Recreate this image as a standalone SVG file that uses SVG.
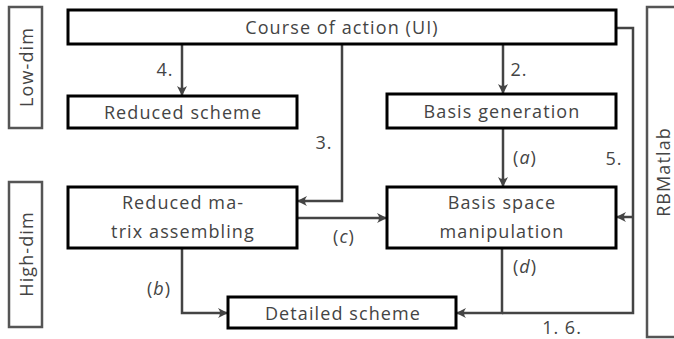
<svg xmlns="http://www.w3.org/2000/svg" width="674" height="339" viewBox="0 0 674 339">
  <defs>
    <marker id="arrow" viewBox="-10 -6 12 12" refX="0" refY="0" markerWidth="12" markerHeight="12" markerUnits="userSpaceOnUse" orient="auto">
      <path d="M1,0 L-9,-5 Q-5,0 -9,5 Z" fill="#444"/>
    </marker>
  </defs>
  <style>
    .box { fill: #fff; stroke: #000; stroke-width: 3; }
    .band { fill: #fff; stroke: #555; stroke-width: 2.5; }
    .wire { fill: none; stroke: #444; stroke-width: 2.5; }
    .arr { marker-end: url(#arrow); }
    text { font-family: "Open Sans", "Noto Sans", "DejaVu Sans", sans-serif; fill: #444; font-size: 18px; letter-spacing: 1.1px; }
    .c { text-anchor: middle; dominant-baseline: central; }
    .lbl { font-size: 18px; letter-spacing: 1px; }
    .it { font-style: italic; }
  </style>

  <!-- level bands -->
  <g id="low-dim">
    <rect class="band" x="9" y="7" width="33" height="121"/>
    <text class="c" transform="translate(26,67) rotate(-90)">Low-dim</text>
  </g>
  <g id="high-dim">
    <rect class="band" x="9" y="182" width="33" height="145"/>
    <text class="c" transform="translate(26,254) rotate(-90)">High-dim</text>
  </g>
  <g id="rbmatlab">
    <rect class="band" x="647" y="7" width="40" height="330"/>
    <text class="c" transform="translate(663,172) rotate(-90)">RBMatlab</text>
  </g>

  <!-- connectors -->
  <g id="connectors">
    <path class="wire arr" d="M182,44 V95"/>
    <path class="wire arr" d="M503,44 V93"/>
    <path class="wire arr" d="M342,44 V201 H298"/>
    <path class="wire" d="M616,28 H633 V313 H502"/>
    <path class="wire arr" d="M633,217 H617"/>
    <path class="wire arr" d="M503,128 V186"/>
    <path class="wire arr" d="M297,218 H386"/>
    <path class="wire arr" d="M182,248 V313 H227"/>
    <path class="wire arr" d="M502,248 V313 H457"/>
    <text class="c lbl" x="165" y="69">4.</text>
    <text class="c lbl" x="519" y="69">2.</text>
    <text class="c lbl" x="324" y="142">3.</text>
    <text class="c lbl" x="614" y="158">5.</text>
    <text class="c lbl" x="562" y="327">1. 6.</text>
    <text class="c lbl" x="525" y="157">(<tspan class="it">a</tspan>)</text>
    <text class="c lbl" x="344" y="236">(<tspan class="it">c</tspan>)</text>
    <text class="c lbl" x="159" y="288">(<tspan class="it">b</tspan>)</text>
    <text class="c lbl" x="525" y="266">(<tspan class="it">d</tspan>)</text>
  </g>

  <!-- nodes -->
  <g id="course-of-action">
    <rect class="box" x="68" y="10" width="548" height="34"/>
    <text class="c" x="342" y="27">Course of action (UI)</text>
  </g>
  <g id="reduced-scheme">
    <rect class="box" x="68" y="96" width="229" height="32"/>
    <text class="c" x="183" y="112">Reduced scheme</text>
  </g>
  <g id="basis-generation">
    <rect class="box" x="387" y="94" width="229" height="34"/>
    <text class="c" x="502" y="111">Basis generation</text>
  </g>
  <g id="reduced-matrix-assembling">
    <rect class="box" x="68" y="187" width="229" height="61"/>
    <text class="c" x="183" y="202">Reduced ma-</text>
    <text class="c" x="183" y="231">trix assembling</text>
  </g>
  <g id="basis-space-manipulation">
    <rect class="box" x="387" y="187" width="229" height="61"/>
    <text class="c" x="502" y="202">Basis space</text>
    <text class="c" x="502" y="231">manipulation</text>
  </g>
  <g id="detailed-scheme">
    <rect class="box" x="228" y="297" width="228" height="31"/>
    <text class="c" x="343" y="313">Detailed scheme</text>
  </g>
</svg>
